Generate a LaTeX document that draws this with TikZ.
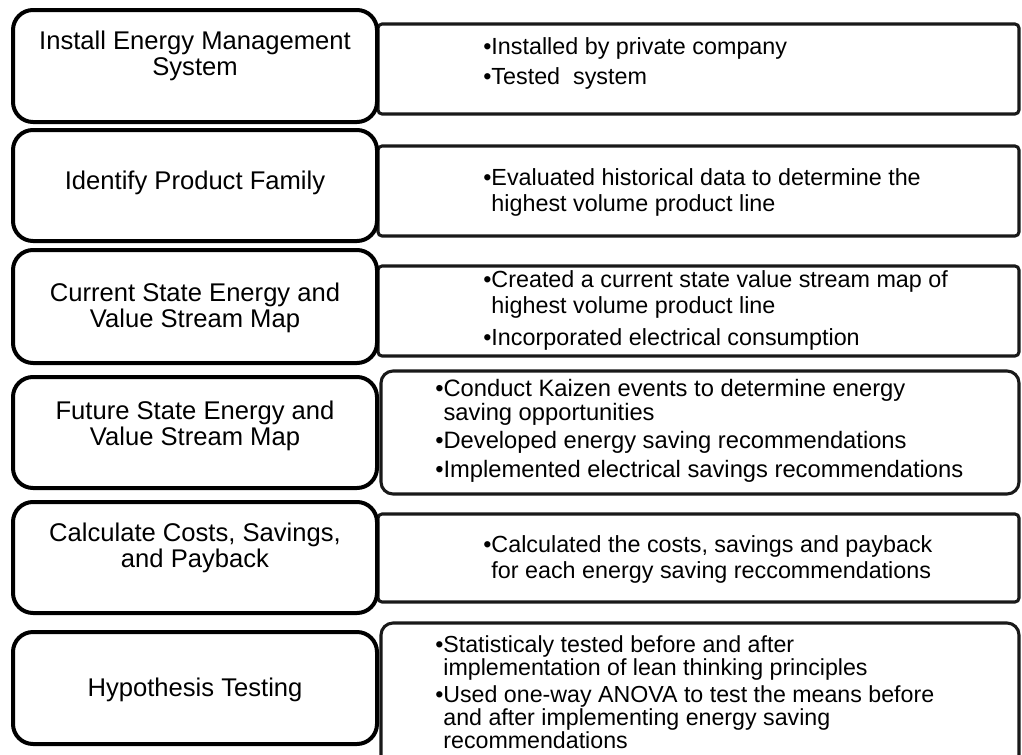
\documentclass[tikz,border=0pt]{standalone}
\usepackage{fontspec}
\setmainfont{Liberation Sans}
\begin{document}
\begin{tikzpicture}[x=0.75pt,y=-0.75pt,
  lbox/.style={draw=black, line width=3pt, rounded corners=15pt, fill=white, minimum width=273pt, inner sep=0pt},
  rbox/.style={draw=black!90, line width=2.3pt, rounded corners=3pt, fill=white, inner sep=0pt},
  rboxb/.style={rbox, rounded corners=9pt},
  ltext/.style={align=center, inner sep=0pt, font=\fontsize{19.2}{19}\selectfont},
  rtext/.style={align=left, anchor=west, inner sep=0pt, font=\fontsize{17.5}{19.5}\selectfont},
  rtextm/.style={align=left, anchor=west, inner sep=0pt, font=\fontsize{17.8}{17.5}\selectfont},
  rtexts/.style={align=left, anchor=west, inner sep=0pt, font=\fontsize{17.4}{15.2}\selectfont}]
\useasboundingbox (0,0) rectangle (1022,754);
\clip (0,0) rectangle (1022,754);
% right boxes
\node[rbox, minimum width=480.75pt, minimum height=67.5pt] (r1) at (698.5,69) {};
\node[rbox, minimum width=480.75pt, minimum height=67.5pt] (r2) at (698.5,191) {};
\node[rbox, minimum width=480.75pt, minimum height=67.5pt] (r3) at (698.5,311) {};
\node[rboxb, minimum width=478.5pt, minimum height=92.25pt] (r4) at (700,432.5) {};
\node[rbox, minimum width=480.75pt, minimum height=66pt] (r5) at (698.5,558) {};
\node[rboxb, minimum width=478.5pt, minimum height=125.25pt] (r6) at (700,706.5) {};
% left boxes
\node[lbox, minimum height=84pt] (l1) at (195,66) {};
\node[lbox, minimum height=83.25pt] (l2) at (195,185.5) {};
\node[lbox, minimum height=84.75pt] (l3) at (195,306.5) {};
\node[lbox, minimum height=83.25pt] (l4) at (195,432.5) {};
\node[lbox, minimum height=83.25pt] (l5) at (195,557.5) {};
\node[lbox, minimum height=84pt] (l6) at (195,688) {};
% left texts
\node[ltext] (l1t) at (195,56) {Install Energy Management\\System};
\node[ltext] (l2t) at (195,183) {Identify Product Family};
\node[ltext] (l3t) at (195,308) {Current State Energy and\\Value Stream Map};
\node[ltext] (l4t) at (195,426) {Future State Energy and\\Value Stream Map};
\node[ltext] (l5t) at (195,548) {Calculate Costs, Savings,\\and Payback};
\node[ltext] (l6t) at (195,690) {Hypothesis Testing};
% right texts
\node[rtext] (r1t) at (483,63.5) {•Installed by private company\\[3pt]•Tested\ \ system};
\node[rtext] (r2t) at (483,192.5) {•Evaluated historical data to determine the\\\phantom{•}highest volume product line};
\node[rtext] (r3t) at (483,310.5) {•Created a current state value stream map of\\\phantom{•}highest volume product line\\[4pt]•Incorporated electrical consumption};
\node[rtextm] (r4t) at (435,431) {•Conduct Kaizen events to determine energy\\\phantom{•}saving opportunities\\[4pt]•Developed energy saving recommendations\\[4pt]•Implemented electrical savings recommendations};
\node[rtext] (r5t) at (483,559.5) {•Calculated the costs, savings and payback\\\phantom{•}for each energy saving reccommendations};
\node[rtexts] (r6t) at (435,692) {•Statisticaly tested before and after\\\phantom{•}implementation of lean thinking principles\\[3pt]•Used one-way ANOVA to test the means before\\\phantom{•}and after implementing energy saving\\\phantom{•}recommendations};
\end{tikzpicture}
\end{document}
